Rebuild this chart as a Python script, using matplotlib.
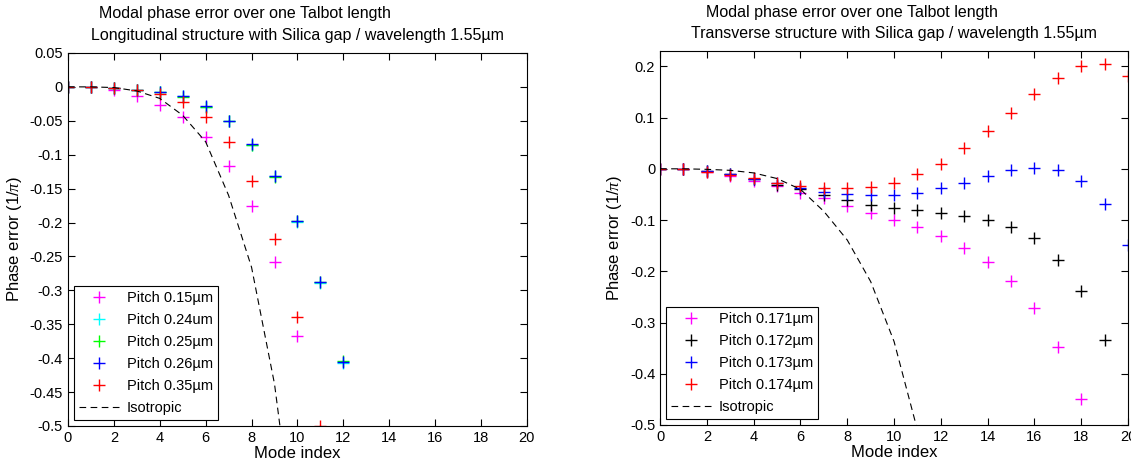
import numpy as np
import matplotlib
matplotlib.use('Agg')
import matplotlib.pyplot as plt
from matplotlib.ticker import FuncFormatter, MultipleLocator

plt.rcParams['font.family'] = ['Liberation Sans', 'DejaVu Sans']
plt.rcParams['axes.unicode_minus'] = False
plt.rcParams['mathtext.fontset'] = 'custom'
plt.rcParams['mathtext.it'] = 'Liberation Serif:italic'

# ---- left chart: longitudinal structure ----
modes_long = list(range(0, 13))
p015 = [0, 0, -0.005, -0.014, -0.026, -0.044, -0.074, -0.116, -0.175, -0.258, -0.368]
p024 = [0, 0, -0.002, -0.004, -0.008, -0.014, -0.029, -0.051, -0.085, -0.132, -0.199, -0.289, -0.407]
p025 = [0, 0, -0.002, -0.004, -0.007, -0.015, -0.029, -0.051, -0.085, -0.133, -0.198, -0.287, -0.404]
p026 = [0, 0, -0.002, -0.004, -0.007, -0.013, -0.028, -0.050, -0.084, -0.131, -0.198, -0.288, -0.405]
p035 = [0, 0, -0.001, -0.005, -0.010, -0.022, -0.044, -0.082, -0.139, -0.224, -0.340, -0.500]
iso_long = [0, 0, -0.001, -0.006, -0.017, -0.042, -0.081, -0.160, -0.266, -0.438, -0.700]

# ---- right chart: transverse structure ----
modes_tr = list(range(0, 21))
p0171 = [0, 0, -0.007, -0.014, -0.024, -0.033, -0.047, -0.057, -0.072, -0.086, -0.100,
         -0.114, -0.132, -0.155, -0.181, -0.219, -0.272, -0.348, -0.450]
p0172 = [0, 0, -0.005, -0.010, -0.019, -0.031, -0.040, -0.052, -0.061, -0.070, -0.076,
         -0.081, -0.086, -0.092, -0.099, -0.114, -0.136, -0.177, -0.238, -0.335]
p0173 = [0, 0, -0.004, -0.011, -0.019, -0.028, -0.037, -0.045, -0.050, -0.052, -0.052,
         -0.048, -0.038, -0.027, -0.014, -0.002, 0.002, -0.002, -0.023, -0.068, -0.149]
p0174 = [0, 0, -0.006, -0.012, -0.018, -0.027, -0.033, -0.037, -0.037, -0.035, -0.027,
         -0.011, 0.010, 0.040, 0.074, 0.108, 0.147, 0.177, 0.200, 0.204, 0.182]
iso_tr = [0, 0, -0.001, -0.003, -0.008, -0.019, -0.040, -0.083, -0.139, -0.220, -0.337, -0.510]

fmt = FuncFormatter(lambda v, pos: '%g' % round(v, 4))

fig = plt.figure(figsize=(11.31, 4.72), dpi=100)
ax1 = fig.add_axes([0.0601, 0.0975, 0.4058, 0.7903])
ax2 = fig.add_axes([0.5836, 0.0996, 0.4138, 0.7924])

ms = 8
series_long = [(p015, 'magenta', 'Pitch 0.15\u00b5m'),
               (p024, 'cyan', 'Pitch 0.24um'),
               (p025, 'lime', 'Pitch 0.25\u00b5m'),
               (p026, 'blue', 'Pitch 0.26\u00b5m'),
               (p035, 'red', 'Pitch 0.35\u00b5m')]
for vals, col, lab in series_long:
    ax1.plot(modes_long[:len(vals)], vals, '+', color=col, ms=ms, mew=1, label=lab)
ax1.plot(modes_long[:len(iso_long)], iso_long, '--', color='black', lw=0.8,
         dashes=(6, 4), label='Isotropic')

series_tr = [(p0171, 'magenta', 'Pitch 0.171\u00b5m'),
             (p0172, 'black', 'Pitch 0.172\u00b5m'),
             (p0173, 'blue', 'Pitch 0.173\u00b5m'),
             (p0174, 'red', 'Pitch 0.174\u00b5m')]
for vals, col, lab in series_tr:
    ax2.plot(modes_tr[:len(vals)], vals, '+', color=col, ms=ms, mew=1, label=lab)
ax2.plot(modes_tr[:len(iso_tr)], iso_tr, '--', color='black', lw=0.8,
         dashes=(6, 4), label='Isotropic')

ax1.set_ylim(-0.5, 0.05)
ax1.yaxis.set_major_locator(MultipleLocator(0.05))
ax2.set_ylim(-0.5, 0.23)
ax2.yaxis.set_major_locator(MultipleLocator(0.1))

for ax in (ax1, ax2):
    ax.set_xlim(0, 20)
    ax.xaxis.set_major_locator(MultipleLocator(2))
    ax.yaxis.set_major_formatter(fmt)
    ax.xaxis.set_major_formatter(fmt)
    ax.tick_params(direction='in', top=True, right=True, length=5, width=0.8,
                   labelsize=10.5, colors='black')
    for sp in ax.spines.values():
        sp.set_linewidth(0.8)
    ax.set_xlabel('Mode index', fontsize=12, labelpad=1)
    ax.set_ylabel('Phase error (1/$\\it{\\pi}$)', fontsize=12, labelpad=4)
    leg = ax.legend(loc='lower left', fontsize=10.5, fancybox=False, framealpha=1,
                    edgecolor='black', borderaxespad=0.4, handlelength=2.8,
                    labelspacing=0.55, borderpad=0.35, handletextpad=0.5)
    leg.get_frame().set_linewidth(0.8)

ax1.text(0.386, 1.107, 'Modal phase error over one Talbot length', transform=ax1.transAxes,
         ha='center', va='center', fontsize=11.5)
ax1.text(0.5, 1.046, 'Longitudinal structure with Silica gap / wavelength 1.55\u00b5m',
         transform=ax1.transAxes, ha='center', va='center', fontsize=11.5)
ax2.text(0.41, 1.104, 'Modal phase error over one Talbot length', transform=ax2.transAxes,
         ha='center', va='center', fontsize=11.5)
ax2.text(0.5, 1.048, 'Transverse structure with Silica gap / wavelength 1.55\u00b5m',
         transform=ax2.transAxes, ha='center', va='center', fontsize=11.5)

fig.savefig('out.png', dpi=100)
